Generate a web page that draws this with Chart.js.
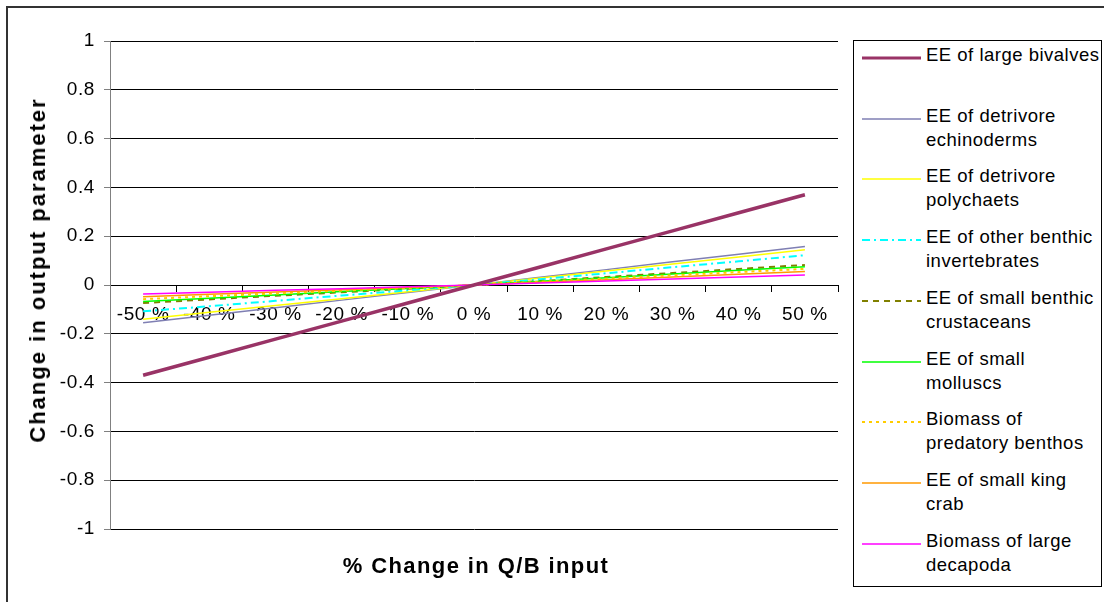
<!DOCTYPE html>
<html>
<head>
  <title>Change in Q/B input</title>
  <script src="https://cdn.jsdelivr.net/npm/chart.js@4.4.0/dist/chart.umd.min.js"></script>
  <style>
    body { margin: 0; background: #fff; font-family: "Liberation Sans", Arial, sans-serif; }
    #wrap { position: relative; width: 1104px; height: 602px; overflow: hidden; }
    #frame { position: absolute; left: 6px; top: 6px; width: 1200px; height: 700px;
             border-left: 2px solid #333; border-top: 2px solid #333; }
    #chart { position: absolute; left: 0; top: 0; }
    #ytitle { position: absolute; left: 38px; top: 270px; transform: translate(-50%, -50%) rotate(-90deg);
              white-space: nowrap; font-weight: bold; font-size: 22px; letter-spacing: 2px; }
    #xtitle { position: absolute; left: 476px; top: 566px; transform: translate(-50%, -50%);
              white-space: nowrap; font-weight: bold; font-size: 22px; letter-spacing: 1.4px; }
    #legend { position: absolute; left: 853px; top: 40px; width: 247px; height: 545px;
              border: 1px solid #000; background: #fff; }
    .entry { position: absolute; left: 0; width: 247px; height: 60px; }
    .entry svg { position: absolute; left: 8px; top: 11px; }
    .entry div { position: absolute; left: 72px; top: 0; font-size: 18.5px; line-height: 24px;
                 letter-spacing: 0.5px; white-space: pre; color: #000; }
  </style>
</head>
<body>
<div id="wrap">
  <div id="frame"></div>
  <canvas id="chart" width="1104" height="602"></canvas>
  <div id="ytitle">Change in output parameter</div>
  <div id="xtitle">% Change in Q/B input</div>
  <div id="legend"></div>
</div>
<script>
  var labels = ["-50 %", "-40 %", "-30 %", "-20 %", "-10 %", "0 %", "10 %", "20 %", "30 %", "40 %", "50 %"];

  var largeBivalves   = [-0.370, -0.296, -0.222, -0.148, -0.074, 0, 0.074, 0.148, 0.222, 0.296, 0.370];
  var echinoderms     = [-0.155, -0.124, -0.093, -0.062, -0.031, 0, 0.032, 0.063, 0.095, 0.126, 0.158];
  var polychaets      = [-0.140, -0.112, -0.084, -0.056, -0.028, 0, 0.029, 0.057, 0.086, 0.115, 0.144];
  var otherBenthic    = [-0.108, -0.087, -0.065, -0.043, -0.022, 0, 0.024, 0.048, 0.073, 0.097, 0.122];
  var smallCrustacean = [-0.074, -0.059, -0.044, -0.030, -0.015, 0, 0.016, 0.033, 0.049, 0.066, 0.082];
  var smallMolluscs   = [-0.068, -0.054, -0.041, -0.027, -0.014, 0, 0.015, 0.030, 0.045, 0.060, 0.075];
  var predatory       = [-0.058, -0.046, -0.035, -0.023, -0.012, 0, 0.013, 0.026, 0.040, 0.053, 0.066];
  var kingCrab        = [-0.048, -0.038, -0.029, -0.019, -0.010, 0, 0.011, 0.022, 0.033, 0.044, 0.055];
  var decapoda        = [-0.037, -0.030, -0.022, -0.015, -0.007, 0, 0.008, 0.016, 0.025, 0.033, 0.041];

  var seriesNames = [
    "EE of large bivalves",
    "EE of detrivore\nechinoderms",
    "EE of detrivore\npolychaets",
    "EE of other benthic\ninvertebrates",
    "EE of small benthic\ncrustaceans",
    "EE of small\nmolluscs",
    "Biomass of\npredatory benthos",
    "EE of small king\ncrab",
    "Biomass of large\ndecapoda"
  ];
  var seriesData = [largeBivalves, echinoderms, polychaets, otherBenthic, smallCrustacean,
                    smallMolluscs, predatory, kingCrab, decapoda];

  // line styles
  var colors = ["#993366", "#7f7fb3", "#ffff00", "#00ffff", "#808000", "#00ff00", "#ffcc00", "#ff9900", "#ff00ff"];
  var widths = [3.5, 1.5, 1.5, 2, 2, 1.5, 2, 1.5, 1.5];
  var dashes = [[], [], [], [8, 4, 2, 4], [6, 5], [], [3, 4], [], []];

  var datasets = [];
  for (var i = 0; i < seriesData.length; i++) {
    datasets.push({
      label: seriesNames[i].replace("\n", " "),
      data: seriesData[i],
      borderColor: colors[i],
      backgroundColor: colors[i],
      borderWidth: widths[i],
      borderDash: dashes[i],
      pointRadius: 0,
      tension: 0,
      fill: false,
      order: i == 0 ? 0 : seriesData.length - i
    });
  }

  // legend box
  var legend = document.getElementById("legend");
  for (var j = 0; j < seriesNames.length; j++) {
    var e = document.createElement("div");
    e.className = "entry";
    e.style.top = (2 + j * 60.7) + "px";
    var sw = Math.min(widths[j], 3);
    e.innerHTML = '<svg width="60" height="8"><line x1="0" y1="4" x2="59" y2="4" stroke="' + colors[j] +
      '" stroke-width="' + sw + '" stroke-dasharray="' + dashes[j].join(" ") + '"/></svg>';
    var t = document.createElement("div");
    t.textContent = seriesNames[j];
    e.appendChild(t);
    legend.appendChild(e);
  }

  Chart.defaults.font.family = '"Liberation Sans", Arial, sans-serif';
  Chart.defaults.color = "#000";

  new Chart(document.getElementById("chart"), {
    type: "line",
    data: { labels: labels, datasets: datasets },
    options: {
      responsive: false,
      animation: false,
      layout: { padding: { left: 0, top: 41, right: 266, bottom: 73 } },
      plugins: { legend: { display: false }, tooltip: { enabled: false } },
      scales: {
        x: {
          type: "category",
          position: { y: 0 },
          offset: true,
          grid: { display: true, drawOnChartArea: false, tickLength: 6, color: "#000", offset: true },
          border: { color: "#000", width: 1 },
          ticks: { font: { size: 19 }, padding: 12, maxRotation: 0, autoSkip: false }
        },
        y: {
          min: -1,
          max: 1,
          ticks: {
            stepSize: 0.2, font: { size: 19 }, padding: 9,
            callback: function(v) { return String(Math.round(v * 10) / 10); }
          },
          grid: { color: "#000", tickLength: 6, tickColor: "#808080" },
          border: { color: "#808080", width: 1 },
          afterFit: function(scale) { scale.width = 110; }
        }
      }
    },
    plugins: [{
      id: "spacing",
      beforeDraw: function(chart) { chart.ctx.letterSpacing = "0.6px"; }
    }]
  });
</script>
</body>
</html>
